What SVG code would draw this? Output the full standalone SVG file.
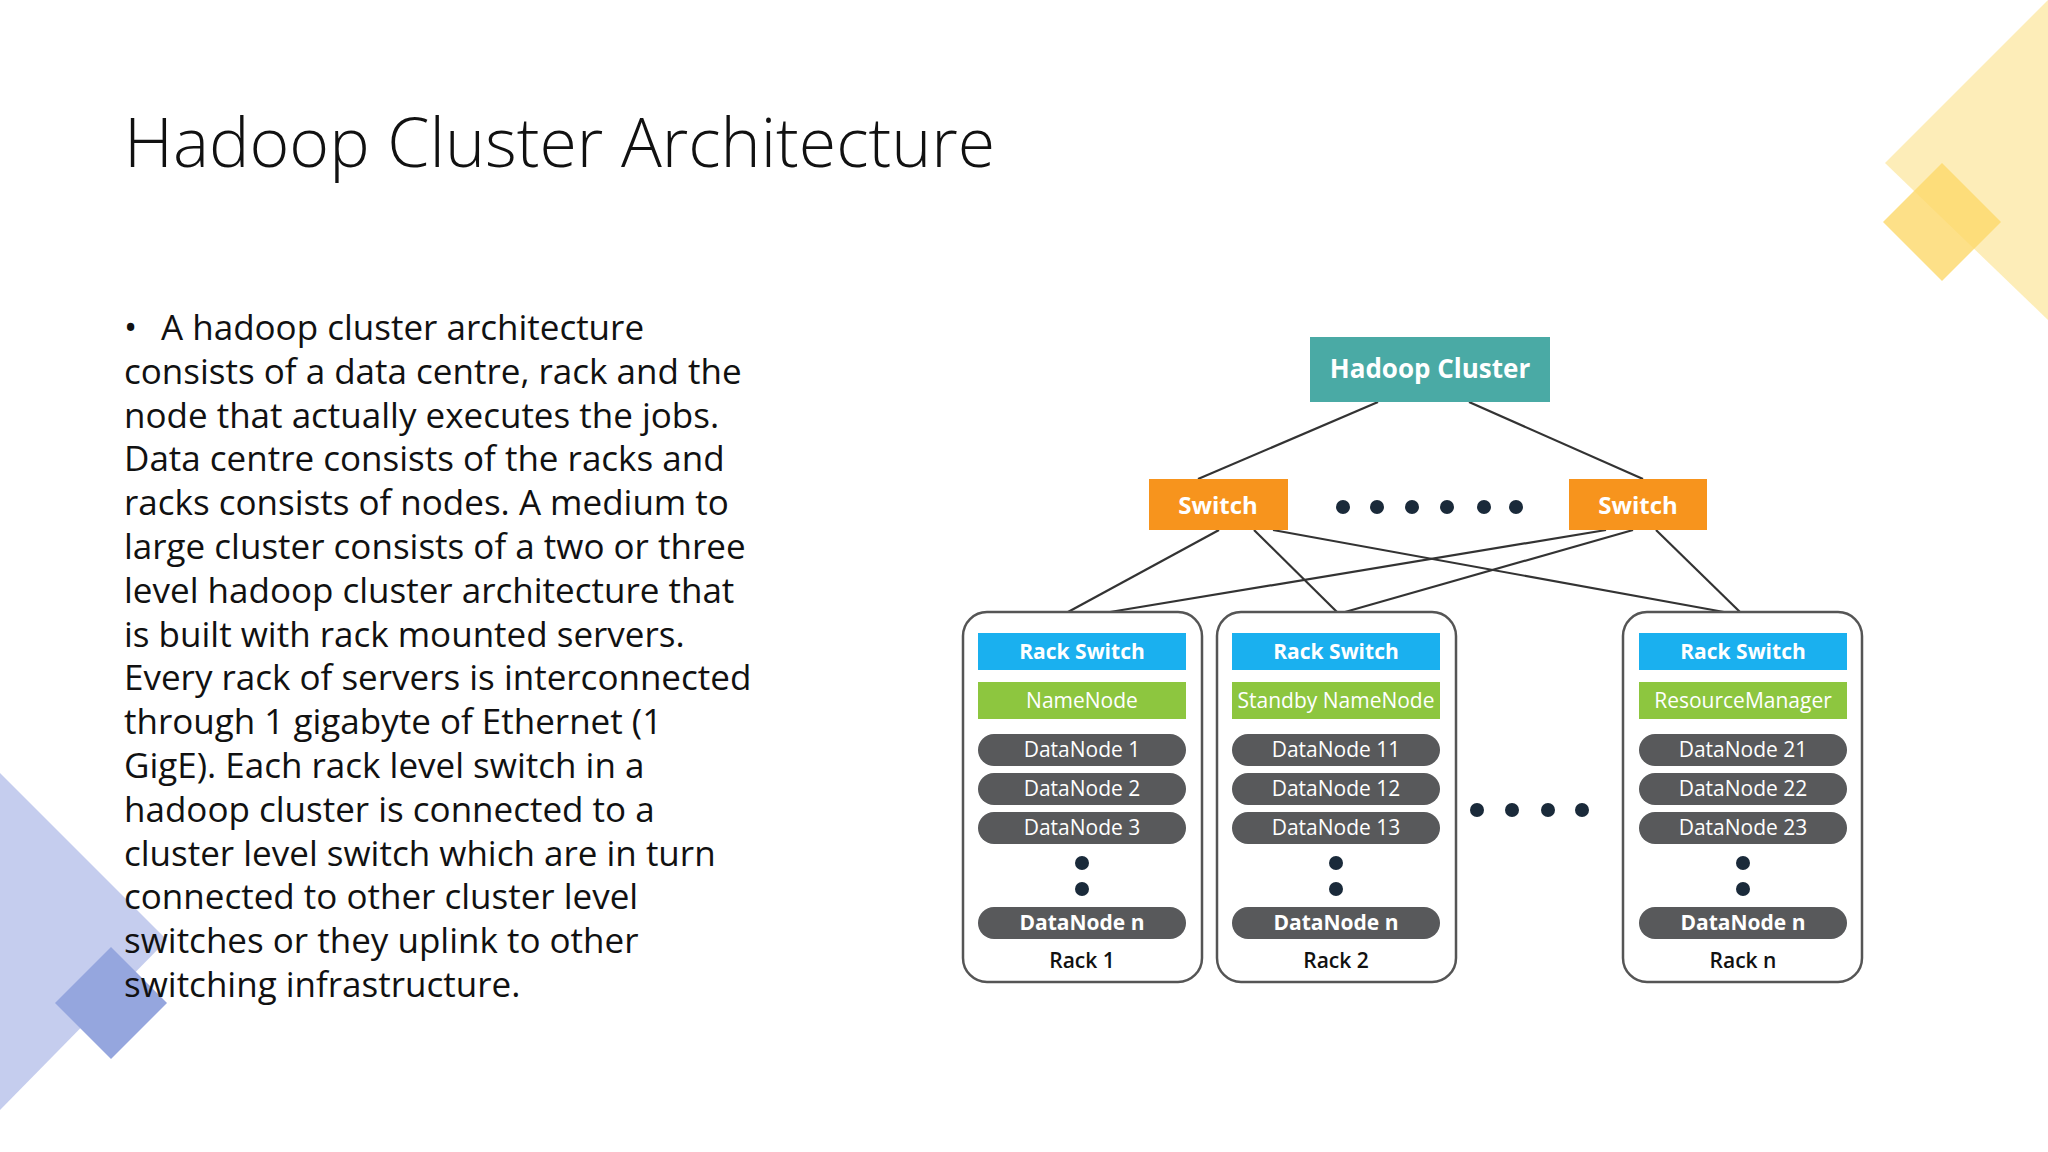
<svg xmlns="http://www.w3.org/2000/svg" width="2048" height="1152" viewBox="0 0 2048 1152">
<style>
.t{font-family:"Open Sans","Noto Sans",sans-serif;fill:#111}
.b{font-family:"Open Sans","Noto Sans",sans-serif;font-weight:bold;fill:#fff;text-anchor:middle}
.w{font-family:"Open Sans","Noto Sans",sans-serif;fill:#fff;text-anchor:middle;font-size:21px}
.rack{fill:#fff;stroke:#555;stroke-width:2.5}
.rs{fill:#1ab0ef}.nn{fill:#8dc63f}.dn{fill:#58595b}
.ln{stroke:#333;stroke-width:2.2;fill:none}
.dot{fill:#1a2a3a}
</style>
<rect width="2048" height="1152" fill="#fff"/>
<polygon points="1885,163 2048,0 2048,320" fill="#fde9a6" opacity="0.8"/>
<polygon points="1942,163 2001,222 1942,281 1883,222" fill="#fcd86a" opacity="0.8"/>
<polygon points="0,773 167,940 0,1110" fill="#c5cdee"/>
<polygon points="111,947 167,1003 111,1059 55,1003" fill="#95a6de"/>
<text class="t" x="124" y="167" font-size="68" font-weight="300">Hadoop Cluster Architecture</text>
<g class="t" font-size="35">
<text x="124" y="340">•</text>
<text x="161" y="340">A hadoop cluster architecture</text>
<text x="124" y="384">consists of a data centre, rack and the</text>
<text x="124" y="428">node that actually executes the jobs.</text>
<text x="124" y="471">Data centre consists of the racks and</text>
<text x="124" y="515">racks consists of nodes. A medium to</text>
<text x="124" y="559">large cluster consists of a two or three</text>
<text x="124" y="603">level hadoop cluster architecture that</text>
<text x="124" y="647">is built with rack mounted servers.</text>
<text x="124" y="690">Every rack of servers is interconnected</text>
<text x="124" y="734">through 1 gigabyte of Ethernet (1</text>
<text x="124" y="778">GigE). Each rack level switch in a</text>
<text x="124" y="822">hadoop cluster is connected to a</text>
<text x="124" y="866">cluster level switch which are in turn</text>
<text x="124" y="909">connected to other cluster level</text>
<text x="124" y="953">switches or they uplink to other</text>
<text x="124" y="997">switching infrastructure.</text>
</g>
<g id="connectors">
<line class="ln" x1="1378" y1="402" x2="1198" y2="479"/>
<line class="ln" x1="1469" y1="402" x2="1643" y2="479"/>
<line class="ln" x1="1219" y1="530" x2="1068" y2="612"/>
<line class="ln" x1="1254" y1="530" x2="1337" y2="612"/>
<line class="ln" x1="1273" y1="530" x2="1724" y2="612"/>
<line class="ln" x1="1606" y1="530" x2="1110" y2="612"/>
<line class="ln" x1="1633" y1="530" x2="1345" y2="612"/>
<line class="ln" x1="1656" y1="530" x2="1740" y2="612"/>
</g>
<g id="cluster"><rect x="1310" y="337" width="240" height="65" fill="#4aaaa5"/><text class="b" x="1430" y="378" font-size="26">Hadoop Cluster</text></g>
<g id="switch1"><rect x="1149" y="479" width="139" height="51" fill="#f7941d"/><text class="b" x="1218" y="514" font-size="24" font-weight="normal">Switch</text></g>
<g id="switch2"><rect x="1569" y="479" width="138" height="51" fill="#f7941d"/><text class="b" x="1638" y="514" font-size="24" font-weight="normal">Switch</text></g>
<g id="dots1" class="dot"><circle cx="1343" cy="507" r="7"/><circle cx="1377" cy="507" r="7"/><circle cx="1412" cy="507" r="7"/><circle cx="1447" cy="507" r="7"/><circle cx="1484" cy="507" r="7"/><circle cx="1516" cy="507" r="7"/></g>
<g id="dots2" class="dot"><circle cx="1477" cy="810" r="7"/><circle cx="1512" cy="810" r="7"/><circle cx="1548" cy="810" r="7"/><circle cx="1582" cy="810" r="7"/></g>
<g id="rack1">
<rect class="rack" x="963" y="612" width="239" height="370" rx="24"/>
<rect class="rs" x="978" y="633" width="208" height="37"/><text class="b" x="1082" y="659" font-size="21">Rack Switch</text>
<rect class="nn" x="978" y="682" width="208" height="37"/><text class="w" x="1082" y="708">NameNode</text>
<rect class="dn" x="978" y="734" width="208" height="32" rx="16"/><text class="w" x="1082" y="757">DataNode 1</text>
<rect class="dn" x="978" y="773" width="208" height="32" rx="16"/><text class="w" x="1082" y="796">DataNode 2</text>
<rect class="dn" x="978" y="812" width="208" height="32" rx="16"/><text class="w" x="1082" y="835">DataNode 3</text>
<circle class="dot" cx="1082" cy="863" r="7"/><circle class="dot" cx="1082" cy="889" r="7"/>
<rect class="dn" x="978" y="907" width="208" height="32" rx="16"/><text class="w" x="1082" y="930" font-weight="bold">DataNode n</text>
<text class="t" x="1082" y="968" font-size="21" font-weight="600" text-anchor="middle">Rack 1</text>
</g>
<g id="rack2">
<rect class="rack" x="1217" y="612" width="239" height="370" rx="24"/>
<rect class="rs" x="1232" y="633" width="208" height="37"/><text class="b" x="1336" y="659" font-size="21">Rack Switch</text>
<rect class="nn" x="1232" y="682" width="208" height="37"/><text class="w" x="1336" y="708">Standby NameNode</text>
<rect class="dn" x="1232" y="734" width="208" height="32" rx="16"/><text class="w" x="1336" y="757">DataNode 11</text>
<rect class="dn" x="1232" y="773" width="208" height="32" rx="16"/><text class="w" x="1336" y="796">DataNode 12</text>
<rect class="dn" x="1232" y="812" width="208" height="32" rx="16"/><text class="w" x="1336" y="835">DataNode 13</text>
<circle class="dot" cx="1336" cy="863" r="7"/><circle class="dot" cx="1336" cy="889" r="7"/>
<rect class="dn" x="1232" y="907" width="208" height="32" rx="16"/><text class="w" x="1336" y="930" font-weight="bold">DataNode n</text>
<text class="t" x="1336" y="968" font-size="21" font-weight="600" text-anchor="middle">Rack 2</text>
</g>
<g id="rackn">
<rect class="rack" x="1623" y="612" width="239" height="370" rx="24"/>
<rect class="rs" x="1639" y="633" width="208" height="37"/><text class="b" x="1743" y="659" font-size="21">Rack Switch</text>
<rect class="nn" x="1639" y="682" width="208" height="37"/><text class="w" x="1743" y="708">ResourceManager</text>
<rect class="dn" x="1639" y="734" width="208" height="32" rx="16"/><text class="w" x="1743" y="757">DataNode 21</text>
<rect class="dn" x="1639" y="773" width="208" height="32" rx="16"/><text class="w" x="1743" y="796">DataNode 22</text>
<rect class="dn" x="1639" y="812" width="208" height="32" rx="16"/><text class="w" x="1743" y="835">DataNode 23</text>
<circle class="dot" cx="1743" cy="863" r="7"/><circle class="dot" cx="1743" cy="889" r="7"/>
<rect class="dn" x="1639" y="907" width="208" height="32" rx="16"/><text class="w" x="1743" y="930" font-weight="bold">DataNode n</text>
<text class="t" x="1743" y="968" font-size="21" font-weight="600" text-anchor="middle">Rack n</text>
</g>
</svg>
